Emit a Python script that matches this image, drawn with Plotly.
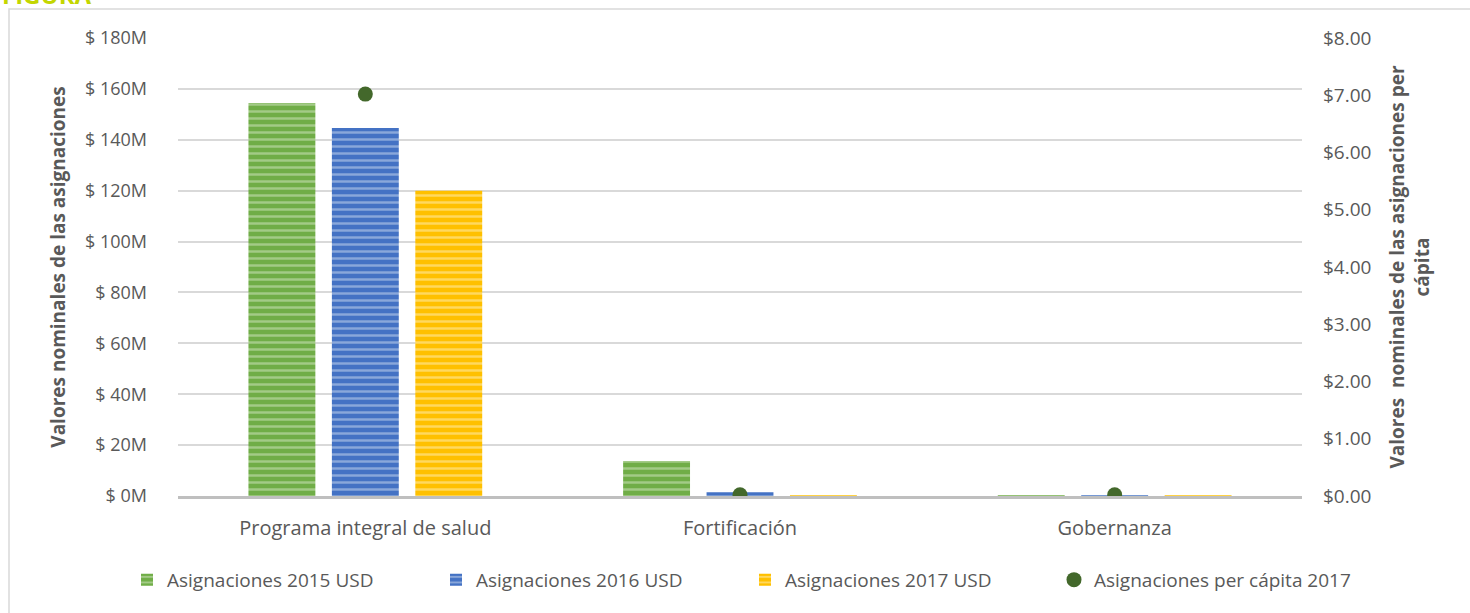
import plotly.graph_objects as go

categories = ['Programa integral de salud', 'Fortificación', 'Gobernanza']
asig_2015 = [154.5, 13.8, 0.3]
asig_2016 = [144.6, 1.5, 0.3]
asig_2017 = [120.0, 0.2, 0.2]
per_capita_2017 = [7.02, 0.02, 0.02]

left_ticks = [0, 20, 40, 60, 80, 100, 120, 140, 160, 180]
left_ticktext = [f'$ {v}M' for v in left_ticks]
right_ticks = [0, 1, 2, 3, 4, 5, 6, 7, 8]
right_ticktext = [f'${v:.2f}' for v in right_ticks]

GREEN = '#70ad47'
BLUE = '#4472c4'
YELLOW = '#ffc000'
DOT = '#43682b'
TXT = '#595959'
FONT = 'Open Sans'

fig = go.Figure()

for name, vals, col, light in [
    ('Asignaciones 2015 USD', asig_2015, GREEN, '#d5e8c8'),
    ('Asignaciones 2016 USD', asig_2016, BLUE, '#d0dcf0'),
    ('Asignaciones 2017 USD', asig_2017, YELLOW, '#fff0c0'),
]:
    fig.add_trace(go.Bar(
        x=categories, y=vals, name=name,
        marker=dict(color=col, line=dict(width=0),
                    pattern=dict(shape='-', fgcolor=light, size=7, solidity=0.35)),
        yaxis='y',
    ))

fig.add_trace(go.Scatter(
    x=categories, y=per_capita_2017, name='Asignaciones per cápita 2017',
    mode='markers', marker=dict(color=DOT, size=15),
    yaxis='y2',
))

fig.update_layout(
    width=1470, height=613,
    margin=dict(l=178, r=168, t=38, b=117),
    paper_bgcolor='white', plot_bgcolor='white',
    font=dict(family=FONT, size=20, color=TXT),
    barmode='group', bargap=0.332, bargroupgap=0.198,
    showlegend=True,
    legend=dict(orientation='h', x=(127 - 178) / 1124, xanchor='left', y=-0.183, yanchor='middle',
                entrywidth=264, font=dict(size=19, color=TXT), itemwidth=30),
    xaxis=dict(showline=True, linecolor='#bfbfbf', linewidth=3, showgrid=False,
               ticks='', ticklabelstandoff=12, tickfont=dict(size=20)),
    yaxis=dict(range=[0, 180], tickvals=left_ticks, ticktext=left_ticktext,
               showgrid=True, gridcolor='#d9d9d9', gridwidth=1.5, zeroline=False,
               ticklabelstandoff=30, tickfont=dict(size=18),
               title=dict(text='<b>Valores nominales de las asignaciones</b>',
                          font=dict(size=19, color=TXT), standoff=14)),
    yaxis2=dict(range=[0, 8], tickvals=right_ticks, ticktext=right_ticktext,
                overlaying='y', side='right', showgrid=False, zeroline=False,
                ticklabelstandoff=20, tickfont=dict(size=19),
                title=dict(text='<b>Valores  nominales de las asignaciones per<br>cápita</b>',
                           font=dict(size=19, color=TXT), standoff=20)),
)

# chart frame
fig.add_shape(type='rect', xref='paper', yref='paper',
              x0=(9 - 178) / 1124, x1=1.3, y0=-0.3, y1=(496 - 9) / 458,
              line=dict(color='#d9d9d9', width=1.5), fillcolor='rgba(0,0,0,0)', layer='below')

fig.add_annotation(text='<b>FIGURA</b>', xref='paper', yref='paper',
                   x=(0 - 178) / 1124, xanchor='left', y=(496 - 13) / 458, yanchor='bottom',
                   showarrow=False, font=dict(size=24, color='#c3d600', family=FONT))

fig.write_html('out.html', config={'displayModeBar': False},
               post_script="document.body.style.margin='0';")
